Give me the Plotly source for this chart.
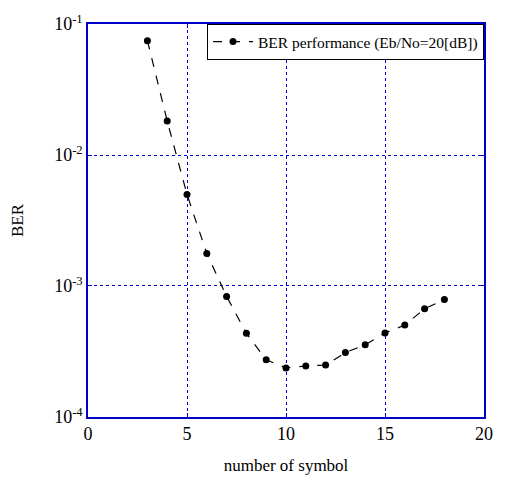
import plotly.graph_objects as go

symbols = [3, 4, 5, 6, 7, 8, 9, 10, 11, 12, 13, 14, 15, 16, 17, 18]
ber = [0.0746, 0.0182, 0.0050, 0.00177, 0.000833, 0.000435, 0.000273, 0.000237,
       0.000245, 0.000249, 0.00031, 0.000356, 0.000438, 0.000503, 0.00067, 0.000787]
series_name = "BER performance (Eb/No=20[dB])"
x_ticks = [0, 5, 10, 15, 20]
y_ticks = [1e-4, 1e-3, 1e-2, 1e-1]
y_ticktext = ["10<sup>-4</sup>", "10<sup>-3</sup>", "10<sup>-2</sup>", "10<sup>-1</sup>"]

FONT = "Liberation Serif, Times New Roman, serif"
BLUE = "#0000cc"

fig = go.Figure()
fig.add_trace(go.Scatter(
    x=symbols, y=ber, mode="lines+markers", name=series_name,
    line=dict(color="black", width=1.2, dash="dash"),
    marker=dict(color="black", size=7, symbol="circle"),
))

fig.update_layout(
    width=489, height=468,
    margin=dict(l=80, r=4, t=10, b=57),
    paper_bgcolor="white", plot_bgcolor="white",
    font=dict(family=FONT, size=17, color="black"),
    showlegend=True,
    legend=dict(x=1, y=1, xanchor="right", yanchor="top",
                bgcolor="white", bordercolor="black", borderwidth=1,
                font=dict(family=FONT, size=15.5), itemwidth=40,
                tracegroupgap=0),
    xaxis=dict(range=[0, 20], tickvals=x_ticks, showline=True, mirror="ticks",
               linecolor=BLUE, linewidth=1.5, ticks="inside", ticklen=4, tickcolor=BLUE,
               showgrid=True, gridcolor=BLUE, griddash="dot", gridwidth=1,
               zeroline=False, tickfont=dict(size=18), ticklabeloverflow="allow",
               title=dict(text="number of symbol", font=dict(family=FONT, size=17), standoff=16)),
    yaxis=dict(type="log", range=[-4.0002, -0.9998], tickvals=y_ticks, ticktext=y_ticktext,
               showline=True, mirror="ticks",
               linecolor=BLUE, linewidth=1.5, ticks="inside", ticklen=4, tickcolor=BLUE,
               showgrid=True, gridcolor=BLUE, griddash="dot", gridwidth=1,
               zeroline=False, tickfont=dict(size=18), ticklabeloverflow="allow",
               title=dict(text="BER", font=dict(family=FONT, size=17), standoff=26)),
)

post = """
var gd = document.getElementById('{plot_id}');
function fixOverflow() {
  gd.querySelectorAll('svg.main-svg').forEach(function (s) { s.style.overflow = 'visible'; });
}
fixOverflow();
setTimeout(fixOverflow, 0);
setTimeout(fixOverflow, 200);
"""

fig.write_html("out.html", config={"displayModeBar": False}, post_script=post)
